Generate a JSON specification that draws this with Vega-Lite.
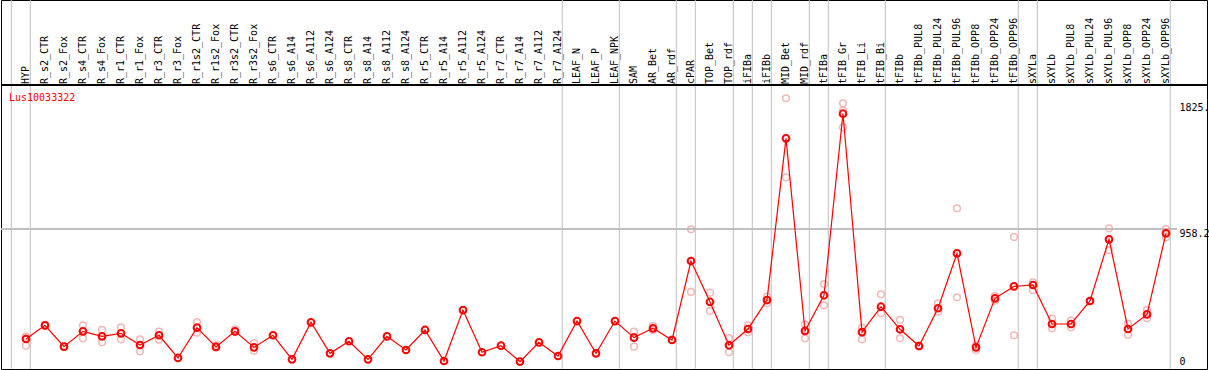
{
  "$schema": "https://vega.github.io/schema/vega-lite/v6.json",
  "width": 1206,
  "height": 369,
  "autosize": {"type": "none"},
  "padding": {"left": 1, "top": 0, "right": 2, "bottom": 1},
  "background": "white",
  "title": {"text": "Lus10033322", "anchor": "start", "frame": "group", "orient": "top", "offset": -103, "dx": 8, "baseline": "top", "color": "#ff0000", "font": "DejaVu Sans Mono", "fontSize": 10, "fontWeight": "normal"},
  "config": {"view": {"stroke": "black", "strokeWidth": 1}},
  "datasets": {
    "samples": [
      {"i": 1, "s": "HYP", "m": 165},
      {"i": 2, "s": "R_s2_CTR", "m": 263},
      {"i": 3, "s": "R_s2_Fox", "m": 110},
      {"i": 4, "s": "R_s4_CTR", "m": 220},
      {"i": 5, "s": "R_s4_Fox", "m": 184},
      {"i": 6, "s": "R_r1_CTR", "m": 206},
      {"i": 7, "s": "R_r1_Fox", "m": 122},
      {"i": 8, "s": "R_r3_CTR", "m": 192},
      {"i": 9, "s": "R_r3_Fox", "m": 29},
      {"i": 10, "s": "R_r1s2_CTR", "m": 247},
      {"i": 11, "s": "R_r1s2_Fox", "m": 108},
      {"i": 12, "s": "R_r3s2_CTR", "m": 220},
      {"i": 13, "s": "R_r3s2_Fox", "m": 105},
      {"i": 14, "s": "R_s6_CTR", "m": 192},
      {"i": 15, "s": "R_s6_A14", "m": 19},
      {"i": 16, "s": "R_s6_A112", "m": 285},
      {"i": 17, "s": "R_s6_A124", "m": 62},
      {"i": 18, "s": "R_s8_CTR", "m": 149},
      {"i": 19, "s": "R_s8_A14", "m": 19},
      {"i": 20, "s": "R_s8_A112", "m": 184},
      {"i": 21, "s": "R_s8_A124", "m": 86},
      {"i": 22, "s": "R_r5_CTR", "m": 230},
      {"i": 23, "s": "R_r5_A14", "m": 7},
      {"i": 24, "s": "R_r5_A112", "m": 373},
      {"i": 25, "s": "R_r5_A124", "m": 70},
      {"i": 26, "s": "R_r7_CTR", "m": 117},
      {"i": 27, "s": "R_r7_A14", "m": 3},
      {"i": 28, "s": "R_r7_A112", "m": 141},
      {"i": 29, "s": "R_r7_A124", "m": 43},
      {"i": 30, "s": "LEAF_N", "m": 294},
      {"i": 31, "s": "LEAF_P", "m": 62},
      {"i": 32, "s": "LEAF_NPK", "m": 294},
      {"i": 33, "s": "SAM", "m": 175},
      {"i": 34, "s": "AR_Bet", "m": 242},
      {"i": 35, "s": "AR_rdf", "m": 158},
      {"i": 36, "s": "cPAR", "m": 725},
      {"i": 37, "s": "TOP_Bet", "m": 431},
      {"i": 38, "s": "TOP_rdf", "m": 120},
      {"i": 39, "s": "iFIBa", "m": 237},
      {"i": 40, "s": "iFIBb", "m": 445},
      {"i": 41, "s": "MID_Bet", "m": 1606},
      {"i": 42, "s": "MID_rdf", "m": 223},
      {"i": 43, "s": "tFIBa", "m": 479},
      {"i": 44, "s": "tFIB_Gr", "m": 1783},
      {"i": 45, "s": "tFIB_Li", "m": 215},
      {"i": 46, "s": "tFIB_Bi", "m": 397},
      {"i": 47, "s": "tFIBb", "m": 235},
      {"i": 48, "s": "tFIBb_PUL8", "m": 115},
      {"i": 49, "s": "tFIBb_PUL24", "m": 386},
      {"i": 50, "s": "tFIBb_PUL96", "m": 780},
      {"i": 51, "s": "tFIBb_OPP8", "m": 105},
      {"i": 52, "s": "tFIBb_OPP24", "m": 457},
      {"i": 53, "s": "tFIBb_OPP96", "m": 543},
      {"i": 54, "s": "sXYLa", "m": 553},
      {"i": 55, "s": "sXYLb", "m": 273},
      {"i": 56, "s": "sXYLb_PUL8", "m": 273},
      {"i": 57, "s": "sXYLb_PUL24", "m": 438},
      {"i": 58, "s": "sXYLb_PUL96", "m": 881},
      {"i": 59, "s": "sXYLb_OPP8", "m": 237},
      {"i": 60, "s": "sXYLb_OPP24", "m": 342},
      {"i": 61, "s": "sXYLb_OPP96", "m": 924}
    ],
    "reps": [
      {"i": 1, "v": 182}, {"i": 1, "v": 117}, {"i": 1, "v": 170},
      {"i": 2, "v": 266}, {"i": 2, "v": 260},
      {"i": 3, "v": 113}, {"i": 3, "v": 108},
      {"i": 4, "v": 263}, {"i": 4, "v": 170},
      {"i": 5, "v": 230}, {"i": 5, "v": 141},
      {"i": 6, "v": 249}, {"i": 6, "v": 163},
      {"i": 7, "v": 163}, {"i": 7, "v": 77},
      {"i": 8, "v": 218}, {"i": 8, "v": 160},
      {"i": 10, "v": 287}, {"i": 10, "v": 210},
      {"i": 11, "v": 122}, {"i": 11, "v": 104},
      {"i": 12, "v": 235}, {"i": 12, "v": 215},
      {"i": 13, "v": 136}, {"i": 13, "v": 81},
      {"i": 33, "v": 218}, {"i": 33, "v": 110}, {"i": 33, "v": 180},
      {"i": 34, "v": 259}, {"i": 34, "v": 230},
      {"i": 35, "v": 160},
      {"i": 36, "v": 953}, {"i": 36, "v": 503},
      {"i": 37, "v": 498}, {"i": 37, "v": 366},
      {"i": 38, "v": 172}, {"i": 38, "v": 70},
      {"i": 39, "v": 261}, {"i": 39, "v": 213},
      {"i": 40, "v": 469}, {"i": 40, "v": 421},
      {"i": 41, "v": 1894}, {"i": 41, "v": 1326},
      {"i": 42, "v": 271}, {"i": 42, "v": 170},
      {"i": 43, "v": 560}, {"i": 43, "v": 407},
      {"i": 44, "v": 1858}, {"i": 44, "v": 1805}, {"i": 44, "v": 1685},
      {"i": 45, "v": 246}, {"i": 45, "v": 163},
      {"i": 46, "v": 486}, {"i": 46, "v": 350},
      {"i": 47, "v": 302}, {"i": 47, "v": 170},
      {"i": 48, "v": 118}, {"i": 48, "v": 112},
      {"i": 49, "v": 421}, {"i": 49, "v": 361},
      {"i": 50, "v": 1104}, {"i": 50, "v": 465},
      {"i": 51, "v": 122}, {"i": 51, "v": 86},
      {"i": 52, "v": 474}, {"i": 52, "v": 440},
      {"i": 53, "v": 898}, {"i": 53, "v": 192},
      {"i": 54, "v": 572}, {"i": 54, "v": 517},
      {"i": 55, "v": 311}, {"i": 55, "v": 242},
      {"i": 56, "v": 297}, {"i": 56, "v": 249},
      {"i": 57, "v": 440},
      {"i": 58, "v": 960}, {"i": 58, "v": 804},
      {"i": 59, "v": 275}, {"i": 59, "v": 194},
      {"i": 60, "v": 373}, {"i": 60, "v": 314},
      {"i": 61, "v": 955}, {"i": 61, "v": 896}
    ],
    "bounds": [
      {"after": 0}, {"after": 1}, {"after": 29}, {"after": 32}, {"after": 35},
      {"after": 36}, {"after": 38}, {"after": 39}, {"after": 40}, {"after": 42},
      {"after": 43}, {"after": 46}, {"after": 53}, {"after": 54}, {"after": 61}
    ]
  },
  "layer": [
    {
      "data": {"name": "bounds"},
      "mark": {"type": "rule", "color": "#c0c0c0", "strokeWidth": 1, "xOffset": 4.3},
      "encoding": {
        "x": {"field": "after", "type": "quantitative", "scale": {"domain": [-0.31579, 63.1579], "nice": false, "zero": false}, "axis": null}
      }
    },
    {
      "data": {"name": "samples"},
      "mark": {"type": "rule", "color": "#c0c0c0", "strokeWidth": 1},
      "encoding": {
        "x": {"datum": -0.31579, "type": "quantitative"},
        "x2": {"datum": 61.58},
        "y": {"datum": 958.2, "type": "quantitative", "scale": {"domain": [-50.3, 2599.6], "nice": false, "zero": false}, "axis": {"orient": "right", "offset": -28, "values": [0, 958.2, 1825], "labelExpr": "datum.value == 0 ? '0' : substring(format(datum.value, '.1f'), 0, 5)", "labelAlign": "left", "labelBaseline": {"condition": {"test": "datum.value == 958.2", "value": "top"}, "value": "middle"}, "labelPadding": 0, "ticks": false, "domain": false, "grid": false, "title": null, "labelFont": "DejaVu Sans Mono", "labelFontSize": 10, "labelColor": "black"}}
      }
    },
    {
      "data": {"name": "samples"},
      "mark": {"type": "rule", "color": "black", "strokeWidth": 1},
      "encoding": {
        "y": {"datum": 1989.2, "type": "quantitative"}
      }
    },
    {
      "data": {"name": "samples"},
      "mark": {"type": "text", "angle": 270, "align": "left", "baseline": "middle", "font": "DejaVu Sans Mono", "fontSize": 10, "color": "black"},
      "encoding": {
        "x": {"field": "i", "type": "quantitative"},
        "y": {"datum": 1996, "type": "quantitative"},
        "text": {"field": "s"}
      }
    },
    {
      "data": {"name": "reps"},
      "mark": {"type": "point", "shape": "circle", "filled": false, "stroke": "#f09a9a", "strokeWidth": 1.5, "size": 45},
      "encoding": {
        "x": {"field": "i", "type": "quantitative"},
        "y": {"field": "v", "type": "quantitative"}
      }
    },
    {
      "data": {"name": "samples"},
      "mark": {"type": "line", "color": "#ff0000", "strokeWidth": 1.2},
      "encoding": {
        "x": {"field": "i", "type": "quantitative"},
        "y": {"field": "m", "type": "quantitative"}
      }
    },
    {
      "data": {"name": "samples"},
      "mark": {"type": "point", "shape": "circle", "filled": false, "stroke": "#ff0000", "strokeWidth": 2, "size": 45, "opacity": 1},
      "encoding": {
        "x": {"field": "i", "type": "quantitative"},
        "y": {"field": "m", "type": "quantitative"}
      }
    }
  ]
}
